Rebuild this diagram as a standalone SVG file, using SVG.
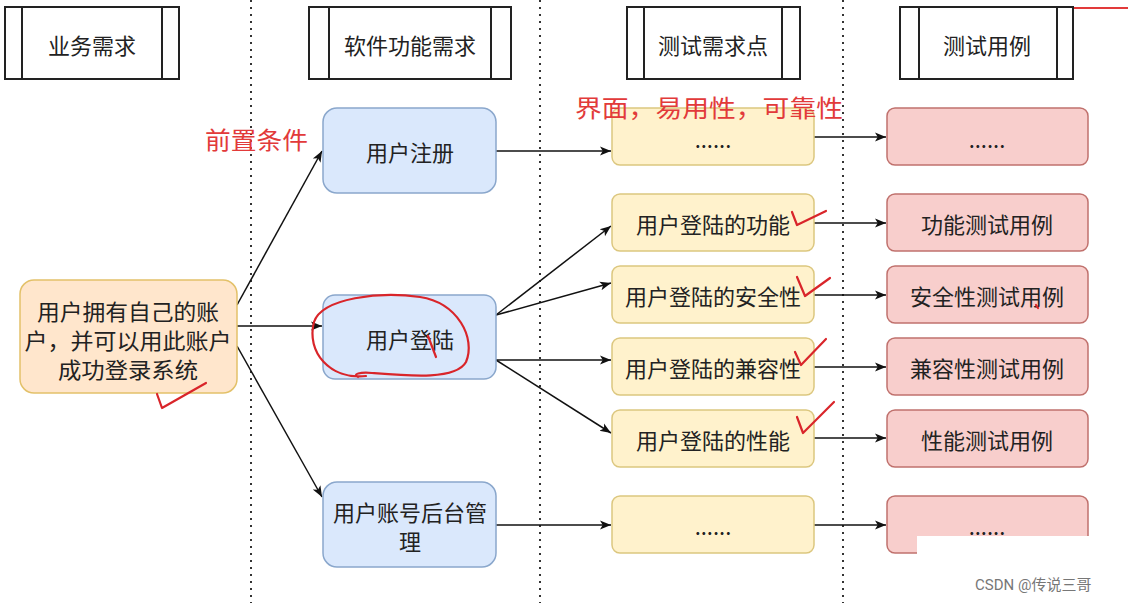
<svg xmlns="http://www.w3.org/2000/svg" width="1128" height="603" viewBox="0 0 1128 603">
<style>
.t{font-family:"Noto Sans CJK SC","Noto Sans",sans-serif;font-size:22px;fill:#222;text-anchor:middle;dominant-baseline:central}
.hd{fill:#fff;stroke:#222;stroke-width:2}
.hl{stroke:#222;stroke-width:2}
.biz{fill:#ffe6cc;stroke:#e3c169;stroke-width:1.5}
.blu{fill:#dae8fc;stroke:#8aa7cc;stroke-width:1.5}
.yel{fill:#fff2cc;stroke:#dcc77f;stroke-width:1.5}
.pnk{fill:#f8cecc;stroke:#c0716d;stroke-width:1.5}
.sep{stroke:#333;stroke-width:2;stroke-dasharray:2 5}
.c{stroke:#111;stroke-width:1.5;fill:none;marker-end:url(#ah)}
.red{font-family:"Noto Sans CJK SC","Noto Sans",sans-serif;fill:#e23a3a;dominant-baseline:central}
.ink{fill:none;stroke:#d9252a;stroke-width:2.2;stroke-linecap:round;stroke-linejoin:round}
</style>
<defs>
<marker id="ah" viewBox="0 0 10 10" refX="10" refY="5" markerWidth="11" markerHeight="11" markerUnits="userSpaceOnUse" orient="auto"><path d="M0,1 L10,5 L0,9 L2.5,5 z" fill="#111"/></marker>
</defs>
<rect width="1128" height="603" fill="#fff"/>
<g id="separators">
<line class="sep" x1="251" y1="0" x2="251" y2="603"/>
<line class="sep" x1="540" y1="0" x2="540" y2="603"/>
<line class="sep" x1="843" y1="0" x2="843" y2="603"/>
</g>
<g id="hdr1"><rect class="hd" x="5" y="7" width="174" height="72"/><line class="hl" x1="22" y1="7" x2="22" y2="79"/><line class="hl" x1="162" y1="7" x2="162" y2="79"/><text class="t" x="92" y="44">业务需求</text></g>
<g id="hdr2"><rect class="hd" x="309" y="7" width="202" height="72"/><line class="hl" x1="329" y1="7" x2="329" y2="79"/><line class="hl" x1="491" y1="7" x2="491" y2="79"/><text class="t" x="410" y="44">软件功能需求</text></g>
<g id="hdr3"><rect class="hd" x="627" y="7" width="173" height="72"/><line class="hl" x1="644" y1="7" x2="644" y2="79"/><line class="hl" x1="782" y1="7" x2="782" y2="79"/><text class="t" x="713" y="44">测试需求点</text></g>
<g id="hdr4"><rect class="hd" x="900" y="7" width="173" height="72"/><line class="hl" x1="919" y1="7" x2="919" y2="79"/><line class="hl" x1="1057" y1="7" x2="1057" y2="79"/><text class="t" x="987" y="44">测试用例</text></g>
<line x1="1074" y1="8" x2="1128" y2="8" stroke="#e23a3a" stroke-width="2"/>
<g id="connectors">
<path class="c" d="M237,305 L322,151"/>
<path class="c" d="M237,326 L322,326"/>
<path class="c" d="M237,346 L322,497"/>
<path class="c" d="M496,151 L611,151"/>
<path class="c" d="M814,137 L886,137"/>
<path class="c" d="M496,315 L611,226"/>
<path class="c" d="M496,315 L611,283"/>
<path class="c" d="M496,360 L611,360"/>
<path class="c" d="M496,360 L611,433"/>
<path class="c" d="M814,223 L886,223"/>
<path class="c" d="M814,295 L886,295"/>
<path class="c" d="M814,367 L886,367"/>
<path class="c" d="M814,438 L886,438"/>
<path class="c" d="M496,525 L611,525"/>
<path class="c" d="M814,525 L886,525"/>
</g>
<g id="biz"><rect class="biz" x="20" y="280" width="217" height="113" rx="14"/><text class="t" x="128" y="310" font-size="20" textLength="182" lengthAdjust="spacingAndGlyphs">用户拥有自己的账</text><text class="t" x="128" y="339" font-size="20" textLength="207" lengthAdjust="spacingAndGlyphs">户，并可以用此账户</text><text class="t" x="128" y="368" font-size="20" textLength="140" lengthAdjust="spacingAndGlyphs">成功登录系统</text></g>
<g id="reg"><rect class="blu" x="323" y="108" width="173" height="85" rx="14"/><text class="t" x="410" y="151">用户注册</text></g>
<g id="login"><rect class="blu" x="323" y="295" width="173" height="84" rx="12"/><text class="t" x="410" y="338">用户登陆</text></g>
<g id="admin"><rect class="blu" x="323" y="482" width="173" height="85" rx="14"/><text class="t" x="410" y="511">用户账号后台管</text><text class="t" x="410" y="540">理</text></g>
<g id="y1"><rect class="yel" x="612" y="108" width="202" height="57" rx="8"/><text class="t" x="713" y="138">......</text></g>
<g id="y2"><rect class="yel" x="612" y="194" width="202" height="57" rx="8"/><text class="t" x="713" y="223">用户登陆的功能</text></g>
<g id="y3"><rect class="yel" x="612" y="266" width="202" height="57" rx="8"/><text class="t" x="713" y="295">用户登陆的安全性</text></g>
<g id="y4"><rect class="yel" x="612" y="338" width="202" height="57" rx="8"/><text class="t" x="713" y="367">用户登陆的兼容性</text></g>
<g id="y5"><rect class="yel" x="612" y="410" width="202" height="57" rx="8"/><text class="t" x="713" y="439">用户登陆的性能</text></g>
<g id="y6"><rect class="yel" x="612" y="496" width="202" height="57" rx="8"/><text class="t" x="713" y="525">......</text></g>
<g id="p1"><rect class="pnk" x="887" y="108" width="201" height="57" rx="8"/><text class="t" x="987" y="138">......</text></g>
<g id="p2"><rect class="pnk" x="887" y="194" width="201" height="57" rx="8"/><text class="t" x="987" y="223">功能测试用例</text></g>
<g id="p3"><rect class="pnk" x="887" y="266" width="201" height="57" rx="8"/><text class="t" x="987" y="295">安全性测试用例</text></g>
<g id="p4"><rect class="pnk" x="887" y="338" width="201" height="57" rx="8"/><text class="t" x="987" y="367">兼容性测试用例</text></g>
<g id="p5"><rect class="pnk" x="887" y="410" width="201" height="57" rx="8"/><text class="t" x="987" y="439">性能测试用例</text></g>
<g id="p6"><rect class="pnk" x="887" y="496" width="201" height="57" rx="8"/><text class="t" x="987" y="525">......</text></g>
<g id="annotations">
<text class="red" x="205" y="138" font-size="24" textLength="103" lengthAdjust="spacingAndGlyphs">前置条件</text>
<text class="red" x="575" y="106" font-size="24" textLength="268" lengthAdjust="spacingAndGlyphs">界面，易用性，可靠性</text>
<path class="ink" d="M366,376 C330,380 306,352 314,322 C322,298 380,291 420,297 C458,303 476,338 466,362 C456,380 410,376 372,373 C360,372 352,374 358,377"/>
<path class="ink" d="M428,336 L436,357"/>
<path class="ink" d="M157,394 L162,408 L206,383"/>
<path class="ink" d="M792,212 L797,225 L826,211"/>
<path class="ink" d="M797,277 L805,296 L830,278"/>
<path class="ink" d="M795,352 L801,365 L826,339"/>
<path class="ink" d="M797,417 L803,433 L834,402"/>
<path class="ink" d="M1036,305 L1038,308"/>
</g>
<g id="watermark"><rect x="917" y="536" width="211" height="67" fill="#fff"/><text x="975" y="590" font-family="Roboto,'Noto Sans CJK SC',sans-serif" font-size="15" fill="#777">CSDN @传说三哥</text></g>
</svg>
